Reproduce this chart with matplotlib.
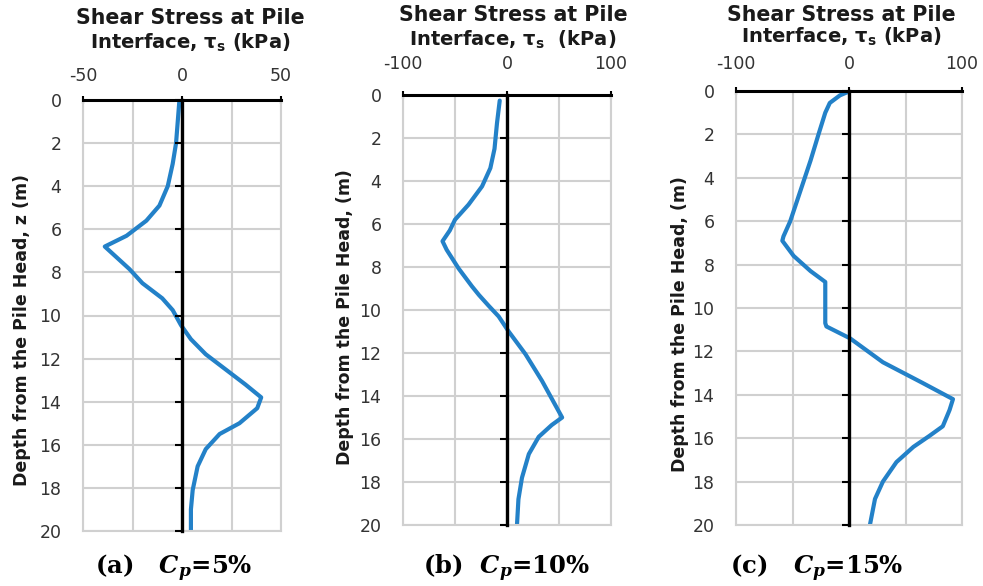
import matplotlib
matplotlib.use("Agg")
import matplotlib.pyplot as plt

plt.rcParams['axes.unicode_minus'] = False
plt.rcParams['font.family'] = 'DejaVu Sans'
plt.rcParams['mathtext.fontset'] = 'custom'
plt.rcParams['mathtext.it'] = 'DejaVu Serif:italic:bold'
plt.rcParams['mathtext.bf'] = 'DejaVu Sans:bold'

# depth (m) and shear stress (kPa)
depth_a = [0, 2, 2.96, 4, 4.9, 5.6, 6.3, 6.8, 7.85, 8.5, 9.2, 9.75, 10.45, 11.1,
           11.8, 12.5, 13.2, 13.8, 14.3, 15, 15.5, 16.2, 17, 18.1, 19, 20]
tau_a = [-1.3, -3, -4.7, -7.2, -11.4, -18, -28, -39, -26.5, -20, -10, -4.7, -0.5, 4.5,
         12, 22, 32, 40, 38, 29, 19, 12, 7.9, 5.4, 4.5, 4.5]

depth_b = [0.26, 1.3, 2.5, 3.4, 4.25, 5.1, 5.8, 6.3, 6.8, 7.2, 8.07, 8.9, 9.3, 9.8,
           10.3, 11, 12.05, 13.3, 15, 15.35, 15.9, 16.7, 17.8, 18.8, 20]
tau_b = [-7, -9.6, -12, -16, -24, -37, -50, -55, -62, -58, -46.5, -33.7, -27, -17.7,
         -8, 1.6, 17.7, 33.7, 53, 43, 30.5, 21, 14.4, 11, 9.6]

depth_c = [0, 0.2, 0.55, 1, 2, 3.2, 4.6, 6, 6.7, 6.9, 7.6, 8.3, 8.8, 9.5, 10.7, 10.85,
           11.4, 12.5, 13.45, 14.2, 14.7, 15.45, 15.9, 16.4, 17.1, 18, 18.8, 20]
tau_c = [1, -8, -17, -21, -27, -34, -43, -52, -58, -59, -49, -34, -21, -21, -21, -20,
         1, 30, 65, 92, 89, 83, 71, 57, 42, 30, 23, 18.5]

limits = [50, 100, 100]
depth_ticks = list(range(0, 21, 2))
title_top = "Shear Stress at Pile"
title_bottom = [r"Interface, $\mathbf{\tau_s}$ (kPa)",
                r"Interface, $\mathbf{\tau_s}$  (kPa)",
                r"Interface, $\mathbf{\tau_s}$ (kPa)"]
ylabels = ["Depth from the Pile Head, z (m)",
           "Depth from the Pile Head, (m)",
           "Depth from the Pile Head, (m)"]
captions = [r"(a)   $C_p$=5%", r"(b)  $C_p$=10%", r"(c)   $C_p$=15%"]

W, H = 983, 586
fig = plt.figure(figsize=(W / 100, H / 100), dpi=100)

# axes boxes in pixels: left, top, right, bottom
boxes = [(83, 100, 281, 531), (403, 95, 611, 525), (736, 91, 962, 525)]
xpads = [7.5, 12.5, 9.7]
title_pos = [(190, 18, 43), (513, 15, 40), (841, 15, 37)]
ylabel_pos = [(22, 330), (345, 317), (680, 324)]
caption_pos = [(174, 568), (507, 568), (817, 568)]

data = [(tau_a, depth_a), (tau_b, depth_b), (tau_c, depth_c)]
blue = '#2381C8'
grid_c = '#d0d0d0'

for i in range(3):
    l, t, r, b = boxes[i]
    ax = fig.add_axes([l / W, 1 - b / H, (r - l) / W, (b - t) / H])
    lim = limits[i]
    tau, depth = data[i]
    ax.plot(tau, depth, color=blue, lw=3, solid_joinstyle='round',
            solid_capstyle='round', zorder=2)

    ax.set_xlim(-lim, lim)
    ax.set_ylim(20, 0)
    ax.set_xticks([-lim, 0, lim])
    ax.set_xticks([-lim / 2, lim / 2], minor=True)
    ax.set_yticks(depth_ticks)
    ax.grid(True, which='both', axis='x', color=grid_c, lw=1.5)
    ax.grid(True, which='major', axis='y', color=grid_c, lw=1.5)
    ax.set_axisbelow(True)

    ax.xaxis.tick_top()
    ax.tick_params(axis='x', which='major', direction='inout', length=6, width=1.5,
                   color='black', pad=xpads[i], labelsize=12.5, labelcolor='#333333')
    ax.tick_params(axis='x', which='minor', length=0)
    ax.tick_params(axis='y', length=0, pad=15.5, labelsize=12.5, labelcolor='#333333')

    for s in ('left', 'right', 'bottom'):
        ax.spines[s].set_color(grid_c)
        ax.spines[s].set_linewidth(1.5)
    ax.spines['top'].set_linewidth(2.2)

    # vertical zero axis with its small ticks
    z0 = ax.secondary_yaxis(0, transform=ax.transData)
    z0.set_yticks(depth_ticks)
    z0.tick_params(direction='out', length=5, width=1.5, labelleft=False)
    z0.spines['left'].set_linewidth(2.4)
    z0.set_zorder(3)

    x1, y1, y2 = title_pos[i]
    fig.text(x1 / W, 1 - y1 / H, title_top, ha='center', va='center',
             fontsize=14.8, fontweight='bold', color='#1a1a1a')
    fig.text(x1 / W, 1 - y2 / H, title_bottom[i], ha='center', va='center',
             fontsize=14, fontweight='bold', color='#1a1a1a')
    xl, yl = ylabel_pos[i]
    fig.text(xl / W, 1 - yl / H, ylabels[i], ha='center', va='center', rotation=90,
             fontsize=12.5, fontweight='bold', color='#1a1a1a')
    xc, yc = caption_pos[i]
    fig.text(xc / W, 1 - yc / H, captions[i], ha='center', va='center',
             fontsize=17.5, fontweight='bold', family='DejaVu Serif')

fig.savefig('out.png', dpi=100)
